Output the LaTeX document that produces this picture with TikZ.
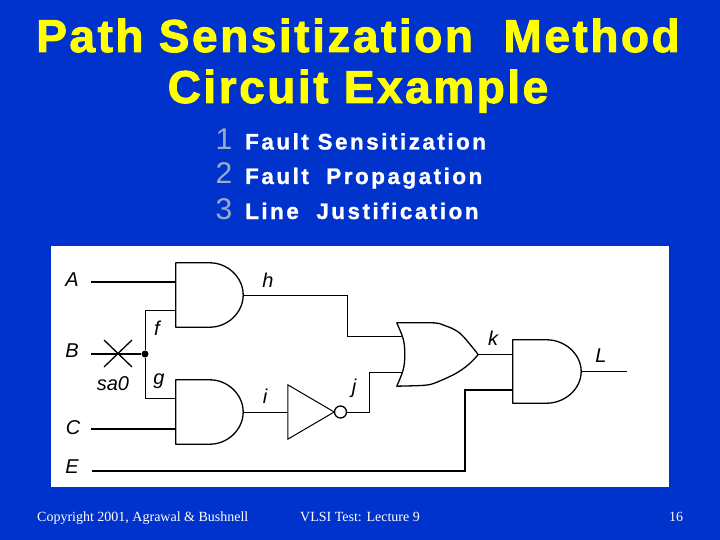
\documentclass[tikz,border=0pt]{standalone}
\usepackage{fontspec}
\setmainfont{Liberation Sans}
\newfontfamily\titlefont[LetterSpace=5.5,FakeBold=2]{Liberation Sans Bold}
\newfontfamily\itemfont[LetterSpace=11,FakeBold=1]{Liberation Sans Bold}
\newfontfamily\footfont{Liberation Serif}
\definecolor{slideblue}{RGB}{0,51,204}
\definecolor{titleyellow}{RGB}{255,255,0}
\definecolor{numbergrey}{RGB}{153,170,204}
\newcommand{\AndShape}[1]{\draw[GateLine] (#1.north west) -- ++(34, 0) .. controls +(18, 0) and +(0, -17.5) .. (#1.east) .. controls +(0, 17.5) and +(18, 0) .. ($(#1.south west) + (34, 0)$) -- (#1.south west) -- cycle;}

\usetikzlibrary{calc}

\begin{document}
\begin{tikzpicture}[x = 1pt, y = -1pt]
\tikzstyle{TitleStyle}=[text = titleyellow, font = \titlefont\fontsize{46}{46}\selectfont, inner sep = 0pt, anchor = base]
\tikzstyle{NumberStyle}=[text = numbergrey, font = \fontsize{30}{30}\selectfont, inner sep = 0pt, anchor = base]
\tikzstyle{ItemStyle}=[text = white, font = \itemfont\fontsize{22.5}{22.5}\selectfont, inner sep = 0pt, anchor = base west]
\tikzstyle{FootStyle}=[text = white, font = \footfont\fontsize{14}{14}\selectfont, inner sep = 0pt, anchor = base]
\tikzstyle{SigStyle}=[font = \itshape\fontsize{20}{20}\selectfont, inner sep = 0pt]
\tikzstyle{Wire}=[line width = 1.3pt]
\tikzstyle{ThinWire}=[line width = 1pt]
\tikzstyle{GateLine}=[line width = 1.3pt, line join = round]
\tikzstyle{GateBox}=[inner sep = 0pt, minimum width = 67pt, minimum height = 64pt]
\fill[slideblue] (0, 0) rectangle (720, 540);
\fill[white] (51, 245.5) rectangle (669, 487);
% heading
\node[TitleStyle] (title1) at (358, 52) {Path Sensitization~ Method};
\node[TitleStyle] (title2) at (358, 103) {Circuit Example};
\node[NumberStyle] (n1) at (224, 150) {1};
\node[NumberStyle] (n2) at (224, 184) {2};
\node[NumberStyle] (n3) at (224, 219) {3};
\node[ItemStyle] (item1) at (245, 149.5) {Fault Sensitization};
\node[ItemStyle] (item2) at (245, 184) {Fault~ Propagation};
\node[ItemStyle] (item3) at (245, 219) {Line~ Justification};
% gates
\node[GateBox] (and1) at (209.5, 295) {};
\node[GateBox] (and2) at (209.5, 412) {};
\node[GateBox, minimum width = 68pt, minimum height = 63pt] (and3) at (547, 371.5) {};
\node[GateBox, minimum width = 81pt, minimum height = 63pt] (or1) at (437.5, 354.5) {};
\node[GateBox, minimum width = 46pt, minimum height = 54pt] (inv1) at (311, 412) {};
\node[circle, draw, line width = 1.3pt, inner sep = 0pt, minimum size = 12pt] (bub1) at (340.5, 412) {};
\node[circle, fill, inner sep = 0pt, minimum size = 7pt] (dot) at (145, 354) {};
\AndShape{and1}
\AndShape{and2}
\AndShape{and3}
\draw[GateLine] (or1.north west) -- ++(30, 0) .. controls +(14, 0) and +(-14, -5) .. ++(24, 5) .. controls +(10, 5) .. (or1.east) .. controls +(-14, 17) and +(14, -6) .. ++(-42, 28) .. controls +(-8, 3) .. (or1.south west) .. controls +(6, -14) and +(0, 14) .. ++(8, -32) .. controls +(0, -14) and +(6, 14) .. (or1.north west) -- cycle;
\draw[ThinWire] (inv1.north west) -- (inv1.east) -- (inv1.south west) -- cycle;
% wire ends
\coordinate (pA) at (91, 282);
\coordinate (pB) at (91, 354);
\coordinate (pC) at (91, 429);
\coordinate (pE) at (92, 471);
\coordinate (pL) at (627, 371.5);
\coordinate (a1) at (176, 282);
\coordinate (a2) at (176, 310);
\coordinate (b1) at (176, 398);
\coordinate (b2) at (176, 429);
\coordinate (o1) at (402, 336);
\coordinate (o2) at (402, 372);
\coordinate (c1) at (513, 354.5);
\coordinate (c2) at (513, 390);
\coordinate (xa) at (104, 340);
\coordinate (xb) at (132, 367);
\coordinate (xc) at (104, 367);
\coordinate (xd) at (132, 340);
% wires
\draw[Wire] (pA) -- (a1);
\draw[Wire] (pB) -- (dot);
\draw[ThinWire] (dot) |- (a2);
\draw[ThinWire] (dot) |- (b1);
\draw[Wire] (pC) -- (b2);
\draw[ThinWire] (and1.east) -| (347, 336) -- (o1);
\draw[ThinWire] (and2.east) -- (inv1.west);
\draw[ThinWire] (bub1.east) -| (369, 372) -- (o2);
\draw[Wire] (or1.east) -- (c1);
\draw[Wire] (pE) -| (465, 390) -- (c2);
\draw[Wire] (and3.east) -- (pL);
\draw[Wire] (xa) -- (xb);
\draw[Wire] (xc) -- (xd);
% labels
\node[SigStyle] (lA) at (72, 280) {A};
\node[SigStyle] (lB) at (72, 351) {B};
\node[SigStyle] (lC) at (73, 428) {C};
\node[SigStyle] (lE) at (72, 467) {E};
\node[SigStyle] (lf) at (157, 328) {f};
\node[SigStyle] (lg) at (159, 381) {g};
\node[SigStyle] (lh) at (268, 280) {h};
\node[SigStyle] (li) at (265, 396) {i};
\node[SigStyle] (lj) at (354, 388) {j};
\node[SigStyle] (lk) at (493, 338) {k};
\node[SigStyle] (lL) at (601, 356) {L};
\node[SigStyle] (lsa) at (113, 384) {sa0};
% footer
\node[FootStyle, anchor = base west] (foot1) at (37, 521) {Copyright 2001, Agrawal \& Bushnell};
\node[FootStyle] (foot2) at (360, 521) {VLSI Test: Lecture 9};
\node[FootStyle] (foot3) at (676, 521) {16};
\end{tikzpicture}
\end{document}
